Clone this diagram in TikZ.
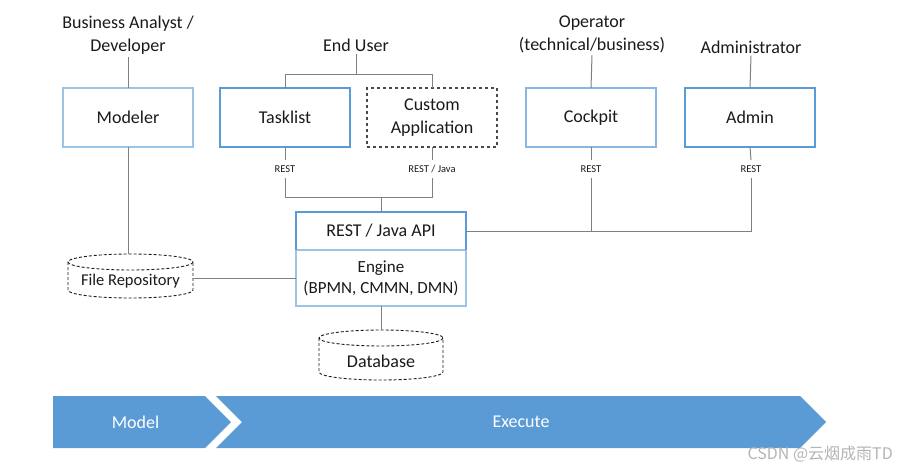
\documentclass[tikz,border=0pt]{standalone}
\usepackage{fontspec}
\setmainfont{Carlito}
\newfontfamily\cjk{Noto Sans CJK SC}
\definecolor{boxblue}{HTML}{5B9BD5}
\definecolor{lightblue}{HTML}{9DC3E6}
\definecolor{linegray}{HTML}{808080}
\definecolor{chevblue}{HTML}{5B9BD5}
\definecolor{txt}{HTML}{1A1A1A}
\definecolor{wm}{HTML}{B4B4B4}
\begin{document}
\begin{tikzpicture}[x=1pt,y=-1pt,
  font=\fontsize{18}{23}\selectfont, text=txt,
  comp/.style={draw=boxblue, line width=1.3pt, minimum width=130pt, minimum height=59pt,
    inner sep=0pt, outer sep=0pt, align=center},
  dcomp/.style={comp, draw=txt!80, dashed, line width=1.1pt},
  actor/.style={align=center, inner sep=2pt},
  proto/.style={font=\fontsize{10.5}{12}\selectfont, minimum height=18pt, inner sep=0pt, outer sep=0pt},
  conn/.style={draw=linegray, line width=1pt},
  cyltext/.style={inner sep=0pt, outer sep=0pt},
  cylline/.style={draw=txt, line width=0.9pt, dash pattern=on 3pt off 2pt},
  chevtext/.style={text=white, inner sep=0pt}
]
\useasboundingbox (0,0) rectangle (908,472);

% actors
\node[actor] (analyst) at (128,35.5) {Business Analyst /\\Developer};
\node[actor] (enduser) at (356,45) {End User};
\node[actor] (operator) at (592,34.5) {Operator\\(technical/business)};
\node[actor] (adminr) at (751,47) {Administrator};

% components
\node[comp, draw=lightblue] (modeler) at (128,117.5) {Modeler};
\node[comp] (tasklist) at (285,117.5) {Tasklist};
\node[dcomp] (custom) at (432,117.5) {Custom\\Application};
\node[comp, draw=lightblue!70!boxblue] (cockpit) at (591,117.5) {Cockpit};
\node[comp] (admin) at (750,117.5) {Admin};

% protocol labels
\node[proto] (rest1) at (285,169) {REST};
\node[proto] (rest2) at (432,169) {REST / Java};
\node[proto] (rest3) at (591,169) {REST};
\node[proto] (rest4) at (751,169) {REST};

% engine
\node[comp, minimum width=170pt, minimum height=38pt] (api) at (381,231) {REST / Java API};
\node[comp, draw=lightblue, minimum width=170pt, minimum height=56pt,
      font=\fontsize{17}{21}\selectfont] (engine) at (381,278) {Engine\\(BPMN, CMMN, DMN)};
\draw[boxblue, line width=1.3pt] (api.south west) -- (api.north west) -- (api.north east) -- (api.south east);

% storages
\node[cyltext, font=\fontsize{16.5}{20}\selectfont] (frepo) at (130.5,281.5) {File Repository};
\draw[cylline] (130.5,262) ellipse [x radius=62.5, y radius=8];
\draw[cylline] (68,262) -- (68,290) arc [start angle=180, end angle=0, x radius=62.5, y radius=8] -- (193,262);
\coordinate (frepotop) at (128,254);
\coordinate (frepoeast) at (193,278);
\node[cyltext] (db) at (381,361.5) {Database};
\draw[cylline] (381,338) ellipse [x radius=62, y radius=8];
\draw[cylline] (319,338) -- (319,372) arc [start angle=180, end angle=0, x radius=62, y radius=8] -- (443,338);
\coordinate (dbtop) at (381,330);

% connectors: actors
\draw[conn] (analyst.south) -- (modeler.north);
\coordinate (eujoin) at (356,74);
\draw[conn] (enduser.south) -- (eujoin);
\draw[conn] (tasklist.north) -- (tasklist.north |- eujoin) -- (custom.north |- eujoin) -- (custom.north);
\draw[conn] (operator.south) -- (cockpit.north);
\draw[conn] (adminr.south) -- (admin.north);

% connectors: clients to api
\draw[conn] (tasklist.south) -- (rest1.north);
\draw[conn] (custom.south) -- (rest2.north);
\draw[conn] (cockpit.south) -- (rest3.north);
\draw[conn] (admin.south) -- (rest4.north);
\coordinate (bus) at (381,197);
\draw[conn] (rest1.south) -- (rest1.south |- bus) -- (rest2.south |- bus) -- (rest2.south);
\draw[conn] (bus) -- (api.north);
\draw[conn] (api.east) -- (rest4.south |- api.east) -- (rest4.south);
\draw[conn] (rest3.south) -- (rest3.south |- api.east);

% connectors: storage
\draw[conn] (modeler.south) -- (frepotop);
\draw[conn] (frepoeast) -- (frepoeast -| engine.west);
\draw[conn] (engine.south) -- (dbtop);

% phases
\fill[chevblue] (53,396) -- (205,396) -- (231,422) -- (205,448) -- (53,448) -- cycle;
\fill[chevblue] (216,396) -- (800,396) -- (826,422) -- (800,448) -- (216,448) -- (242,422) -- cycle;
\node[chevtext] (model) at (135.5,422) {Model};
\node[chevtext] (execute) at (521,422) {Execute};

% watermark
\node[anchor=east, text=wm, font=\cjk\fontsize{16}{18}\selectfont, inner sep=0pt] (wmark) at (893,454) {CSDN @云烟成雨TD};
\end{tikzpicture}
\end{document}
